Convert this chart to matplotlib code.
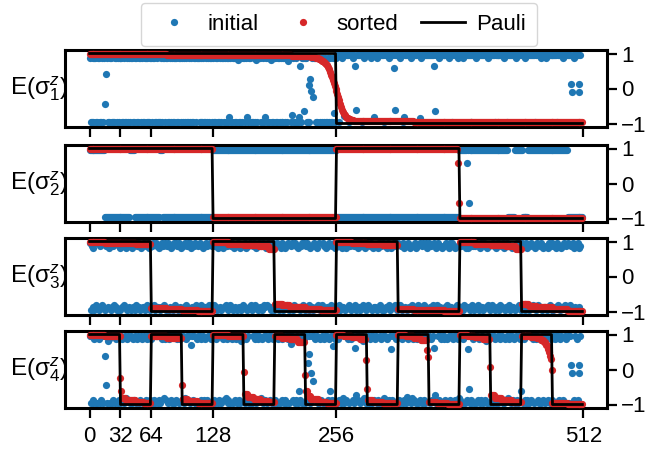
import numpy as np
import matplotlib
matplotlib.use('Agg')
import matplotlib.pyplot as plt
from matplotlib.lines import Line2D

plt.rcParams['font.family'] = ['Liberation Sans', 'DejaVu Sans']
plt.rcParams['mathtext.fontset'] = 'custom'
plt.rcParams['mathtext.rm'] = 'Liberation Sans'
plt.rcParams['mathtext.it'] = 'Liberation Sans:italic'
plt.rcParams['axes.unicode_minus'] = True

# ---------------- data ----------------
n_states = 512
x_ticks = [0, 32, 64, 128, 256, 512]
y_ticks = [-1, 0, 1]
row_labels = ['E(σ$^{z}_{1}$)', 'E(σ$^{z}_{2}$)', 'E(σ$^{z}_{3}$)', 'E(σ$^{z}_{4}$)']
legend_labels = ['initial', 'sorted', 'Pauli']

# Pauli expectation per equal-width block, one list per qubit
pauli1_blocks = [1, -1]
pauli2_blocks = [1, -1, 1, -1]
pauli3_blocks = [1, -1, 1, -1, 1, -1, 1, -1]
pauli4_blocks = [1, -1, 1, -1, 1, -1, 1, -1, 1, -1, 1, -1, 1, -1, 1, -1]

# initial (blue) values: one code per state
code_values = {'U': 0.95, 'V': 0.88, 'u': 0.81, 'W': 0.72,
               'D': -0.95, 'E': -0.88, 'd': -0.81, 'F': -0.72, '.': np.nan}

initial1_codes = """
VDDVDVVD DVVDDVDV VDVDDVVD DDVVDVDV VVDDVDDV DVDVVDDV VDDVVDVD DVVDVDDV
VDVVDDVD DDVDVVDV VDDVDVDV DVVDDVVD VDVDVDDV DVDDVVDV VVDVDDVD DVDVDVVD
VDDVVDDV DVVDVDVD VdVDDVVD DVuDDVDV VDVdDVVD DDVVDuDV VVDDVDdV DVDVuDDV
VDDVVDVD DVVDVDDV VDVVDDVD DdVDVVDV VDDVDVDV DVVDDVVD VDVDVDDV DVDDVVDV
UUUDUUVU UUUUUDUU UVUUUUUU UUDUUVUU UUUUVUUD UUVUUUUU UDUUUUVU UUUUVUUU
UUVUUDUU UUUUUVUU UUUDUUUU VUUUUUUU UUUUUUDU UUVUUUUU UUUUUVUU DUUUUUVU
UUUVUUUU UUUDUUUU UVUUUUUU UUUUUVUU UUUUDUUU UUUUUUVU UDUUUUUU UUVUUUUU
UUUVUUUU UUUUUUDU UUUUVUUU UVUUUUUU UUUUUDUU UUUVUUUU UUUUUUVU UUUUUU..
"""
initial1_outliers = {16: -0.45, 17: 0.42, 206: 0.78, 210: -0.77, 218: 0.65,
                     222: -0.65, 227: 0.09, 229: 0.26, 230: -0.07, 232: -0.25,
                     253: -0.7, 264: -0.78, 275: 0.65, 276: -0.62, 295: -0.81,
                     316: 0.6, 317: -0.62, 326: -0.82, 343: -0.85, 357: 0.65,
                     358: -0.65, 499: 0.12, 500: -0.1, 507: 0.12, 508: -0.1}

initial2_runs = [(16, 'U'), (26, 'D'), (5, 'U'), (26, 'D'), (3, 'U'), (52, 'D'),
                 (128, 'U'), (127, 'D'), (51, 'U'), (7, 'D'), (8, 'U'), (6, 'D'),
                 (41, 'U'), (16, 'D')]
initial2_outliers = {391: 0.6, 393: -0.57}

initial3_codes = """
UDVEuDUd EUDVUdEU DVUEuUDE VdUEDUVu DUEVdUuD UEVDuEUD dVUEDuVE UDVdEUuD
EVUdDUVE uDEUVdUD VUDEuVDU EdUVDUEu DVEUdVUD UuEDVUdE VDUdEVuD EUVDdUEV
UdVEDuUE DVuEUdVD UEdVUDuE VDUEuDVd EUuDVEUd DVUdEuVD UEVDUdEu dUVEDuUD
VEUdDVuE UDVuEdUD EVUDdUVE uEDVUdUD VUEdDuVE DUVEudUD EdUVDuEV UDdVEUuD
EUVdDUuE VDuUEdVD UEVdDUuE DVUEdVuD UdEVUDuE EVDuUdVD UDVEuUdE DuVEUdVD
UEdVDUuE VDUEuVdD EUuDVdEU DVUdEUuV UEVDdUEu dUVEDuVD VEUdDuUE UDVuEdVD
EVUDdUuE uEDVUdVD VUEdDuUE DUVEudVD EdUVDuEU UDdVEUuD EUVdDVuE VDuUEdUD
UEVdDUuE DVUEdVuD UdEVUDuE EVDuUdVD UDVEuUdE DuVEUdVD UEdVDUuE VDUEuV..
"""
initial3_outliers = {}

initial4_codes = """
UDUEDVUD DUVDEUDU UEDuVDUD EUDVUDEU DUVEDUdV UEDUDVEU DVUDEUVD UDEVUDUE
VUDEDUUD EDUVUdVE UDVUEDUD DUEVUDVU EUDdVUEU DVUEUDDV UDUVEDUE VDEUDUVD
UEDVUDEU DUVEUdVD EUDUVDUE VDUEDuVU UDVEUDED DUEUVDUV UEdVDUEU DVUEUDVD
EUDVUDUE VUDEDUVD UDUEVDEU DVEUDUVD UEDUVDEU DUVEUDDV EUDVUDUE VDUEDUVU
UDVEUDEd DUEUVDUV UEDVDUEU DVUEudVD EUDVUDUE VUDEDUVD UdUEVDEU DVEUDUVD
UEDUVDEU DUVEUDdV EUDVUDUE VDUEDUVU UDVEUDED DUEUVDUV UEDVDUEU DVUEUDVd
EUDVUDUE VUDEDUVD UDUEVDEU DVEuDUVD UEDUVDEU DUVEUDDV EUdVUDUE VDUEDUVU
UDVEUDED DUEUVDUV UEDVDUEU DVUEUDVD EUDVUDUE VUDEDUVD UDUEVDEU DVEUDU..
"""
initial4_outliers = {16: 0.38, 17: -0.45, 105: 0.7, 209: 0.72, 217: -0.62,
                     226: 0.19, 228: 0.43, 230: -0.1, 232: -0.33, 249: -0.62,
                     252: 0.68, 275: 0.62, 276: -0.74, 313: 0.58, 329: -0.79,
                     357: 0.62, 358: -0.74, 392: 0.6, 393: -0.57, 447: -0.6,
                     499: 0.12, 500: -0.1, 507: 0.12, 508: -0.1}

# sorted (red) values as (count, value) runs
sorted1_runs = [(20, 0.99), (60, 0.98), (60, 0.97), (50, 0.96), (20, 0.95), (10, 0.94), (5, 0.93),
                (1, 0.93), (1, 0.93), (1, 0.92), (1, 0.92), (1, 0.92), (1, 0.91), (1, 0.91),
                (1, 0.90), (1, 0.90), (1, 0.89), (1, 0.88), (1, 0.87), (1, 0.86), (1, 0.85), (1, 0.84),
                (1, 0.82), (1, 0.80), (1, 0.78), (1, 0.76), (1, 0.73), (1, 0.70), (1, 0.66), (1, 0.61),
                (1, 0.55), (1, 0.48), (1, 0.40), (1, 0.32), (1, 0.24), (1, 0.16), (1, 0.08), (1, 0.0),
                (1, -0.08), (1, -0.16), (1, -0.25), (1, -0.34), (1, -0.43), (1, -0.52), (1, -0.60),
                (1, -0.67), (1, -0.72), (1, -0.76), (1, -0.80), (1, -0.83), (1, -0.85), (1, -0.87),
                (1, -0.88), (1, -0.89), (1, -0.90), (1, -0.91), (1, -0.92), (1, -0.92),
                (20, -0.93), (40, -0.94), (60, -0.95), (60, -0.96), (56, -0.97)]
sorted2_runs = [(128, 0.98), (128, -0.97), (126, 0.98), (1, 0.6), (1, -0.57), (128, -0.98)]
sorted3_runs = [(16, 0.99), (16, 0.97), (16, 0.95), (16, 0.92),
                (16, -0.90), (16, -0.93), (16, -0.96), (16, -0.98),
                (16, 0.98), (16, 0.94), (16, 0.90), (10, 0.86), (6, 0.80),
                (8, -0.78), (8, -0.82), (16, -0.88), (16, -0.93), (16, -0.97),
                (16, 0.98), (16, 0.95), (16, 0.92), (16, 0.89),
                (16, -0.93), (16, -0.95), (16, -0.97), (16, -0.99),
                (16, 0.98), (16, 0.94), (16, 0.90), (10, 0.86), (6, 0.78),
                (8, -0.78), (8, -0.83), (16, -0.88), (16, -0.94), (16, -0.98)]
sorted4_runs = [(16, 0.99), (16, 0.96),
                (1, -0.25), (1, -0.62), (4, -0.80), (10, -0.88), (8, -0.93), (8, -0.96),
                (16, 0.96), (16, 0.91),
                (1, -0.45), (5, -0.85), (10, -0.90), (16, -0.96),
                (16, 0.98), (16, 0.95),
                (1, -0.08), (3, -0.70), (6, -0.78), (8, -0.85), (8, -0.90), (6, -0.94),
                (8, 0.96), (8, 0.91), (8, 0.86), (7, 0.80), (1, -0.16),
                (2, -0.62), (4, -0.75), (8, -0.85), (8, -0.92), (10, -0.96),
                (8, 0.98), (8, 0.96), (8, 0.93), (7, 0.88), (1, 0.27),
                (1, -0.56), (5, -0.88), (10, -0.93), (16, -0.96),
                (8, 0.98), (8, 0.95), (8, 0.91), (6, 0.85), (1, 0.55), (1, 0.37),
                (8, -0.93), (12, -0.96), (12, -0.98),
                (8, 0.98), (8, 0.95), (8, 0.92), (7, 0.87), (1, 0.08),
                (4, -0.72), (8, -0.80), (10, -0.87), (10, -0.93),
                (10, 0.97), (6, 0.94), (4, 0.90), (3, 0.85), (2, 0.78), (2, 0.70),
                (1, 0.60), (1, 0.50), (1, 0.40), (1, 0.30), (1, 0.0),
                (16, -0.95), (16, -0.98)]

# ---------------- helpers ----------------
def fit_len(arr):
    arr = list(arr)
    if len(arr) < n_states:
        arr += [np.nan] * (n_states - len(arr))
    return np.array(arr[:n_states], dtype=float)

def from_codes(text, outliers):
    s = ''.join(text.split())
    vals = fit_len([code_values[c] for c in s])
    for k, v in outliers.items():
        vals[k] = v
    return vals

def from_code_runs(runs, outliers):
    return from_codes(''.join(c * n for n, c in runs), outliers)

def from_runs(runs):
    out = []
    for n, v in runs:
        out.extend([v] * n)
    return fit_len(out)

def from_blocks(blocks):
    return fit_len(np.repeat(blocks, n_states // len(blocks)))

x = np.arange(n_states)
initial = [from_codes(initial1_codes, initial1_outliers),
           from_code_runs(initial2_runs, initial2_outliers),
           from_codes(initial3_codes, initial3_outliers),
           from_codes(initial4_codes, initial4_outliers)]
sorted_vals = [from_runs(sorted1_runs), from_runs(sorted2_runs),
               from_runs(sorted3_runs), from_runs(sorted4_runs)]
pauli = [from_blocks(pauli1_blocks), from_blocks(pauli2_blocks),
         from_blocks(pauli3_blocks), from_blocks(pauli4_blocks)]

# ---------------- plot ----------------
W, H = 656, 455
fig = plt.figure(figsize=(W / 100, H / 100), dpi=100)
blue = '#1f77b4'
red = '#d62728'
fs = 16
ms = 5.2

panel_px = [(50, 127), (145, 222), (238, 315), (331, 408)]
left_px, right_px = 65, 607

axes = []
for k in range(4):
    top, bot = panel_px[k]
    ax = fig.add_axes([left_px / W, 1 - bot / H, (right_px - left_px) / W, (bot - top) / H])
    axes.append(ax)
    ax.plot(x, initial[k], 'o', ms=ms, mew=0, color=blue, zorder=2)
    ax.plot(x, sorted_vals[k], 'o', ms=ms, mew=0, color=red, zorder=3)
    ax.plot(x, pauli[k], '-', lw=2.0, color='black', zorder=4)
    ax.set_xticks(x_ticks)
    ax.set_yticks(y_ticks)
    ax.yaxis.tick_right()
    ax.tick_params(axis='both', direction='out', length=7, width=1.6, labelsize=fs, pad=3)
    ax.tick_params(axis='x', labelbottom=(k == 3), pad=6)
    for sp in ax.spines.values():
        sp.set_linewidth(2.2)
    ax.text(0.006, 0.5, row_labels[k], transform=ax.transAxes, ha='right', va='center',
            fontsize=17.5, clip_on=False, zorder=1)

handles = [Line2D([], [], marker='o', ls='', ms=ms, mew=0, color=blue),
           Line2D([], [], marker='o', ls='', ms=ms, mew=0, color=red),
           Line2D([], [], ls='-', lw=2.0, color='black')]
fig.legend(handles, legend_labels, loc='lower center', bbox_to_anchor=(339 / W, 1 - 46 / H),
           ncol=3, fontsize=fs, frameon=True, handlelength=2.0, columnspacing=1.0,
           handletextpad=0.5, borderpad=0.5, borderaxespad=0.0)

fig.savefig('out.png', dpi=100)
